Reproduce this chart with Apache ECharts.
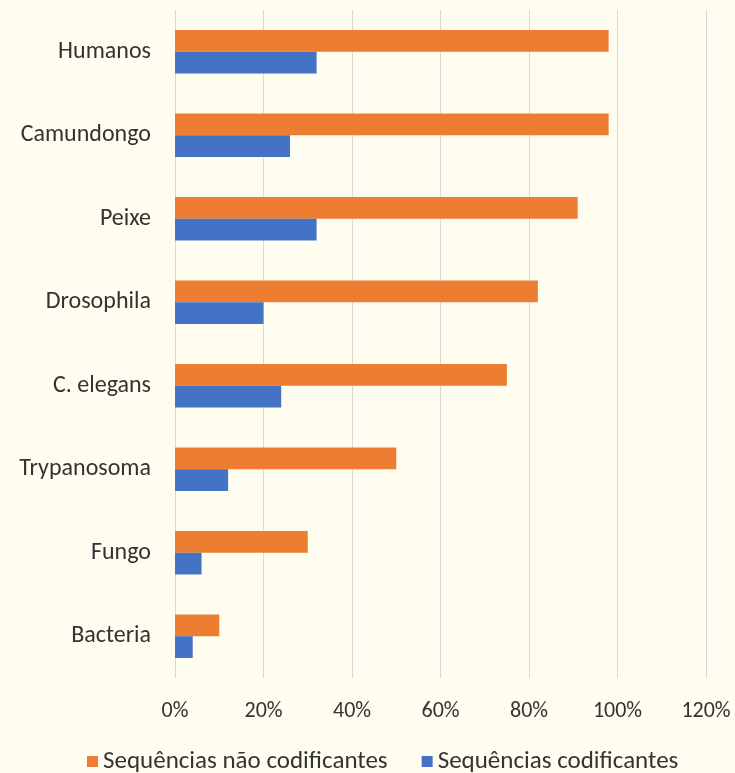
<!DOCTYPE html>
<html>
<head>
<meta charset="utf-8">
<script src="https://cdn.jsdelivr.net/npm/echarts@6/dist/echarts.min.js"></script>
<style>
  html, body { margin: 0; padding: 0; background: #FFFCF0; }
  #chart { width: 735px; height: 773px; }
</style>
</head>
<body>
<div id="chart"></div>
<script>
// Organismos, de cima para baixo
const organismos = ['Humanos', 'Camundongo', 'Peixe', 'Drosophila', 'C. elegans', 'Trypanosoma', 'Fungo', 'Bacteria'];
// Percentual do genoma (%)
const naoCodificantes = [98, 98, 91, 82, 75, 50, 30, 10];
const codificantes = [32, 26, 32, 20, 24, 12, 6, 4];
const nomesSeries = ['Sequências não codificantes', 'Sequências codificantes'];
const ticksX = [0, 20, 40, 60, 80, 100, 120];

const fonte = 'Carlito, Lato, sans-serif';
const corTexto = '#333333';

const chart = echarts.init(document.getElementById('chart'));
chart.setOption({
  backgroundColor: '#FFFCF0',
  animation: false,
  textStyle: { fontFamily: fonte },
  grid: { left: 175, right: 29, top: 10, bottom: 95 },
  legend: {
    left: 82,
    top: 744,
    itemWidth: 11,
    itemHeight: 11,
    itemGap: 34,
    icon: 'rect',
    textStyle: { fontFamily: fonte, fontSize: 25, color: corTexto },
    data: nomesSeries
  },
  xAxis: {
    type: 'value',
    min: ticksX[0],
    max: ticksX[ticksX.length - 1],
    interval: 20,
    axisLine: { show: false },
    axisTick: { show: false },
    splitLine: { lineStyle: { color: '#D9D9D9', width: 1 } },
    axisLabel: {
      margin: 22,
      fontFamily: fonte,
      fontSize: 22,
      color: corTexto,
      formatter: v => v + '%'
    }
  },
  yAxis: {
    type: 'category',
    inverse: true,
    data: organismos,
    axisLine: { show: false },
    axisTick: { show: false },
    axisLabel: { margin: 24, fontFamily: fonte, fontSize: 24, color: corTexto }
  },
  series: [
    {
      name: nomesSeries[0],
      type: 'bar',
      data: naoCodificantes,
      barGap: '0%',
      barCategoryGap: '48%',
      itemStyle: { color: '#ED7D31' }
    },
    {
      name: nomesSeries[1],
      type: 'bar',
      data: codificantes,
      barGap: '0%',
      barCategoryGap: '48%',
      itemStyle: { color: '#4472C4' }
    }
  ]
});
</script>
</body>
</html>
